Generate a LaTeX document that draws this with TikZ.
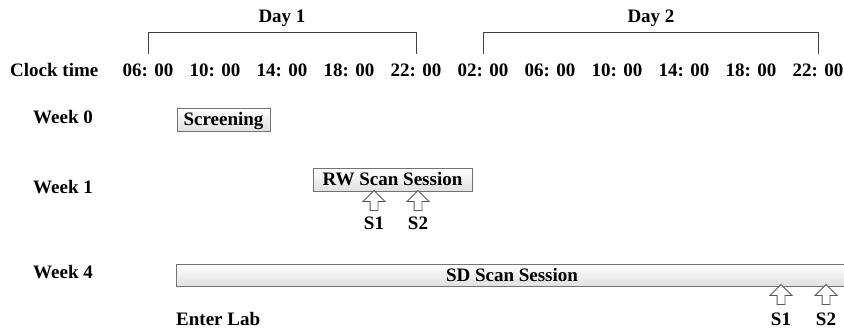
\documentclass[tikz,border=0pt]{standalone}
\usepackage{fontspec}
\setmainfont{Liberation Serif}
\usetikzlibrary{shapes.arrows,shadows}
\tikzset{
	lbl/.style={font=\bfseries\fontsize{19}{21}\selectfont, inner sep=0pt, anchor=base},
	sessbox/.style={draw=black!55, line width=0.8pt, top color=white, bottom color=black!12,
		drop shadow={shadow xshift=1.2pt, shadow yshift=-1.2pt, opacity=0.35, fill=black!60},
		font=\bfseries\fontsize{19}{21}\selectfont, text height=12.5pt, text depth=0pt,
		inner sep=0pt, minimum height=23pt},
	uparrow/.style={single arrow, draw=black!65, line width=0.8pt, fill=white,
		shape border rotate=90, minimum height=20pt, minimum width=16pt, inner sep=3.5pt},
	bracket/.style={line width=0.9pt, color=black!75}
}
\begin{document}
\begin{tikzpicture}[x=1pt, y=-1pt]
	\useasboundingbox (0,0) rectangle (844,331);
	\node[lbl, anchor=base west] (clock) at (10,77) {Clock time};
	\foreach \t [count=\i] in {06,10,14,18,22,02,06,10,14,18,22}
		\node[lbl] (t\i) at ({148+67*(\i-1)},77) {\t: 00};
	\draw[bracket] ([yshift=10pt]t1.north) -- ([yshift=32pt]t1.north) -| ([yshift=10pt]t5.north);
	\draw[bracket] ([yshift=10pt]t6.north) -- ([yshift=32pt]t6.north) -| ([yshift=10pt]t11.north);
	\node[lbl] (day1) at (282,23) {Day 1};
	\node[lbl] (day2) at (651,23) {Day 2};
	\node[lbl, anchor=base west] (wk0) at (33,124) {Week 0};
	\node[lbl, anchor=base west] (wk1) at (33,194) {Week 1};
	\node[lbl, anchor=base west] (wk4) at (33,279) {Week 4};
	\node[sessbox, minimum width=93pt] (screen) at (223.5,119.5) {Screening};
	\node[sessbox, minimum width=159pt] (rw) at (392.5,179.5) {RW Scan Session};
	\node[sessbox, minimum width=672pt, minimum height=22pt] (sd) at (512,275) {SD Scan Session};
	\node[uparrow] (rwa1) at (374,202.5) {};
	\node[uparrow] (rwa2) at (418,202.5) {};
	\node[lbl] (rws1) at (374,230) {S1};
	\node[lbl] (rws2) at (418,230) {S2};
	\node[uparrow] (sda1) at (781,296.5) {};
	\node[uparrow] (sda2) at (826,296.5) {};
	\node[lbl] (sds1) at (781,326) {S1};
	\node[lbl] (sds2) at (826,326) {S2};
	\node[lbl, anchor=base west] (enter) at (176,326) {Enter Lab};
\end{tikzpicture}
\end{document}
